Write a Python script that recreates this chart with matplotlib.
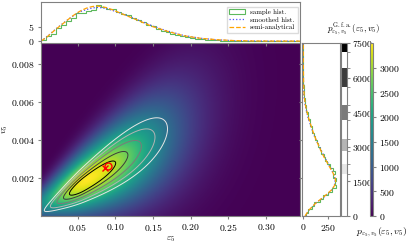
import numpy as np
import matplotlib.pyplot as plt
from matplotlib.colors import ListedColormap, BoundaryNorm
from matplotlib.cm import ScalarMappable
from matplotlib.ticker import FuncFormatter

plt.rcParams['mathtext.fontset'] = 'cm'
plt.rcParams['font.family'] = ['DejaVu Serif']
plt.rcParams['font.size'] = 7
plt.rcParams['axes.edgecolor'] = 'grey'
plt.rcParams['axes.linewidth'] = 0.8
plt.rcParams['xtick.color'] = 'grey'
plt.rcParams['ytick.color'] = 'grey'
plt.rcParams['xtick.labelcolor'] = 'black'
plt.rcParams['ytick.labelcolor'] = 'black'
plt.rcParams['xtick.major.size'] = 2.5
plt.rcParams['ytick.major.size'] = 2.5
plt.rcParams['xtick.major.pad'] = 2
plt.rcParams['ytick.major.pad'] = 2

# axis ranges
eps_lim = (0.0013, 0.345)
v_lim = (0.0, 0.0091)

# top marginal (eps5): sample histogram, smoothed histogram, semi-analytical
eps_hist = [0.5, 1.6, 2.6, 4.4, 5.6, 6.9, 8.2, 9.6, 9.9, 10.6, 10.9, 12.4, 11.7,
            11.2, 11.3, 10.2, 9.4, 9.0, 8.2, 7.2, 6.6, 5.7, 5.3, 4.2, 3.6, 3.1,
            2.6, 2.2, 1.7, 1.4, 1.2, 0.8, 0.6, 0.5, 0.35, 0.3, 0.2, 0.15, 0.1,
            0.08, 0.05, 0.05, 0.03, 0.02, 0.02, 0.01, 0.0, 0.01, 0.0, 0.0, 0.0, 0.0]
eps_pts = [0.0013, 0.009, 0.02, 0.031, 0.042, 0.049, 0.055, 0.062, 0.069, 0.075,
           0.082, 0.09, 0.097, 0.106, 0.115, 0.124, 0.137, 0.15, 0.168, 0.19,
           0.212, 0.234, 0.257, 0.28, 0.31, 0.345]
eps_smooth = [0.0, 1.5, 4.0, 6.3, 8.4, 9.6, 10.4, 11.0, 11.5, 11.7, 11.6, 11.2, 10.6,
              9.8, 8.9, 8.0, 6.6, 5.2, 3.6, 2.0, 1.0, 0.45, 0.15, 0.04, 0.0, 0.0]
eps_semi = [0.0, 1.4, 3.9, 6.2, 8.5, 9.8, 10.7, 11.5, 12.0, 12.2, 12.0, 11.5, 10.8,
            9.8, 8.8, 7.9, 6.4, 5.0, 3.5, 1.9, 1.0, 0.5, 0.18, 0.05, 0.01, 0.0]

# right marginal (v5)
v_hist = [28, 45, 90, 112, 165, 200, 250, 290, 330, 318,
          335, 300, 320, 300, 275, 245, 225, 205, 180, 172,
          150, 140, 118, 112, 92, 88, 72, 66, 50, 45,
          30, 28, 16, 14, 8, 8, 4, 5, 2, 1,
          1, 0, 1, 0, 0, 0, 0, 0, 0, 0]
v_pts = [0.0, 0.0003, 0.0005, 0.0007, 0.00085, 0.001, 0.0012, 0.0014, 0.0016,
         0.0018, 0.002, 0.00225, 0.0025, 0.0028, 0.0031, 0.0034, 0.0037, 0.004,
         0.0043, 0.0047, 0.0052, 0.0058, 0.0063, 0.007, 0.008, 0.0091]
v_smooth = [22, 58, 95, 132, 172, 210, 256, 294, 314, 322, 318, 303, 280, 248, 215,
            186, 158, 130, 104, 79, 47, 20, 7, 2, 0, 0]
v_semi = [18, 55, 92, 132, 168, 205, 250, 292, 316, 328, 322, 302, 275, 243, 210,
          182, 156, 130, 107, 82, 51, 23, 9, 3, 0.5, 0]

# semi-analytical joint density (shape)
heat_peak = 3500
heat_eps0, heat_sl, heat_sr = 0.062, 0.05, 0.076
heat_slope, heat_icpt = 0.021, 0.0006
heat_w0, heat_w1 = 0.0006, 0.009

# G.f.a. density for the contour lines
gfa_peak = 9000
gfa_eps0, gfa_sl, gfa_sr = 0.059, 0.031, 0.064
gfa_slope, gfa_icpt = 0.0262, 0.00015
gfa_w0, gfa_w1 = 0.0002, 0.006
gfa_levels = [2045, 3090, 4485, 6000, 7300]
gfa_colors = ['#e6e6e6', '#b4b4b4', '#7a7a7a', '#3c3c3c', '#000000']
gfa_band_edges = [0, 1830, 2260, 2830, 3350, 4170, 4800, 5600, 6400, 7100, 7500]

circle_pt = (0.0906, 0.00265)
cross_pt = (0.086, 0.00253)


def ridge_density(E, V, peak, eps0, sl, sr, slope, icpt, w0, w1):
    along = np.where(E < eps0, (E - eps0) / sl, (E - eps0) / sr)
    across = (V - (slope * E + icpt)) / (w0 + w1 * E)
    return peak * np.exp(-0.5 * (along ** 2 + across ** 2))


E, V = np.meshgrid(np.linspace(*eps_lim, 400), np.linspace(*v_lim, 300))
Z = ridge_density(E, V, heat_peak, heat_eps0, heat_sl, heat_sr,
                  heat_slope, heat_icpt, heat_w0, heat_w1)
Zg = ridge_density(E, V, gfa_peak, gfa_eps0, gfa_sl, gfa_sr,
                   gfa_slope, gfa_icpt, gfa_w0, gfa_w1)

fig = plt.figure(figsize=(4.11, 2.44), dpi=100)
ax = fig.add_axes([0.0998, 0.1148, 0.630, 0.709])
ax_top = fig.add_axes([0.0998, 0.8238, 0.630, 0.168])
ax_right = fig.add_axes([0.7355, 0.1148, 0.0925, 0.709])
cax_g = fig.add_axes([0.8300, 0.1148, 0.0140, 0.709])
cax_v = fig.add_axes([0.9000, 0.1148, 0.0075, 0.709])

math_fmt = lambda f: FuncFormatter(lambda x, p: '$' + f.format(x) + '$')

im = ax.imshow(Z, extent=[*eps_lim, *v_lim], origin='lower', aspect='auto',
               cmap='viridis', vmin=0, vmax=heat_peak, interpolation='bilinear')
ax.contour(E, V, Zg, levels=gfa_levels, colors=gfa_colors, linewidths=0.7)
ax.plot(*circle_pt, 'o', mfc='none', mec='red', ms=5, mew=1.0)
ax.plot(*cross_pt, 'x', color='red', ms=5, mew=1.0)
ax.set_xlim(eps_lim)
ax.set_ylim(v_lim)
ax.set_xticks([0.05, 0.10, 0.15, 0.20, 0.25, 0.30])
ax.set_yticks([0.002, 0.004, 0.006, 0.008])
ax.xaxis.set_major_formatter(math_fmt('{:.2f}'))
ax.yaxis.set_major_formatter(math_fmt('{:.3f}'))
ax.set_xlabel(r'$\varepsilon_5$', labelpad=1)
ax.set_ylabel(r'$v_5$', labelpad=1)

edges_eps = np.linspace(eps_lim[0], eps_lim[1], len(eps_hist) + 1)
ax_top.hist(edges_eps[:-1], bins=edges_eps, weights=eps_hist, histtype='step',
            color='#5cb85c', lw=0.8, label='sample hist.')
ax_top.plot(eps_pts, eps_smooth, ':', color='#4d4dff', lw=0.9, label='smoothed hist.')
ax_top.plot(eps_pts, eps_semi, '--', color='orange', lw=0.9, label='semi-analytical')
ax_top.set_xlim(eps_lim)
ax_top.set_ylim(-0.66, 13.6)
ax_top.set_xticks([0.05, 0.10, 0.15, 0.20, 0.25, 0.30])
ax_top.set_xticklabels([])
ax_top.set_yticks([0, 5])
ax_top.yaxis.set_major_formatter(math_fmt('{:.0f}'))
ax_top.legend(loc='upper right', bbox_to_anchor=(1.005, 0.97),
              prop={'family': 'cmr10', 'size': 5},
              frameon=True, fancybox=False, edgecolor='lightgrey',
              handlelength=2.2, handleheight=0.6, borderpad=0.35,
              labelspacing=0.25, handletextpad=0.8)

edges_v = np.linspace(v_lim[0], v_lim[1], len(v_hist) + 1)
ax_right.hist(edges_v[:-1], bins=edges_v, weights=v_hist, histtype='step',
              orientation='horizontal', color='#5cb85c', lw=0.8)
ax_right.plot(v_smooth, v_pts, ':', color='#4d4dff', lw=0.9)
ax_right.plot(v_semi, v_pts, '--', color='orange', lw=0.9)
ax_right.set_ylim(v_lim)
ax_right.set_xlim(-10, 375)
ax_right.set_xticks([0, 250])
ax_right.xaxis.set_major_formatter(math_fmt('{:.0f}'))
ax_right.set_yticks([0.002, 0.004, 0.006, 0.008])
ax_right.set_yticklabels([])

band_colors = []
for c in gfa_colors:
    band_colors += ['white', c]
norm_g = BoundaryNorm(gfa_band_edges, len(band_colors))
cb_g = fig.colorbar(ScalarMappable(norm=norm_g, cmap=ListedColormap(band_colors)),
                    cax=cax_g, spacing='proportional',
                    ticks=[0, 1500, 3000, 4500, 6000, 7500])
cb_g.ax.yaxis.set_major_formatter(math_fmt('{:.0f}'))
cb_g.outline.set_edgecolor('grey')
cb_g.ax.tick_params(length=2)

cb_v = fig.colorbar(im, cax=cax_v, ticks=[0, 500, 1000, 1500, 2000, 2500, 3000])
cb_v.ax.yaxis.set_major_formatter(math_fmt('{:.0f}'))
cb_v.outline.set_edgecolor('grey')
cb_v.ax.tick_params(length=2)

fig.text(0.86, 0.878, r'$p^{\mathrm{G.f.a.}}_{\varepsilon_5,v_5}(\varepsilon_5,v_5)$',
         ha='center', va='center', fontsize=6.5)
fig.text(0.929, 0.049, r'$p_{\varepsilon_5,v_5}(\varepsilon_5,v_5)$',
         ha='center', va='center', fontsize=7)

fig.savefig('out.png', dpi=100)
